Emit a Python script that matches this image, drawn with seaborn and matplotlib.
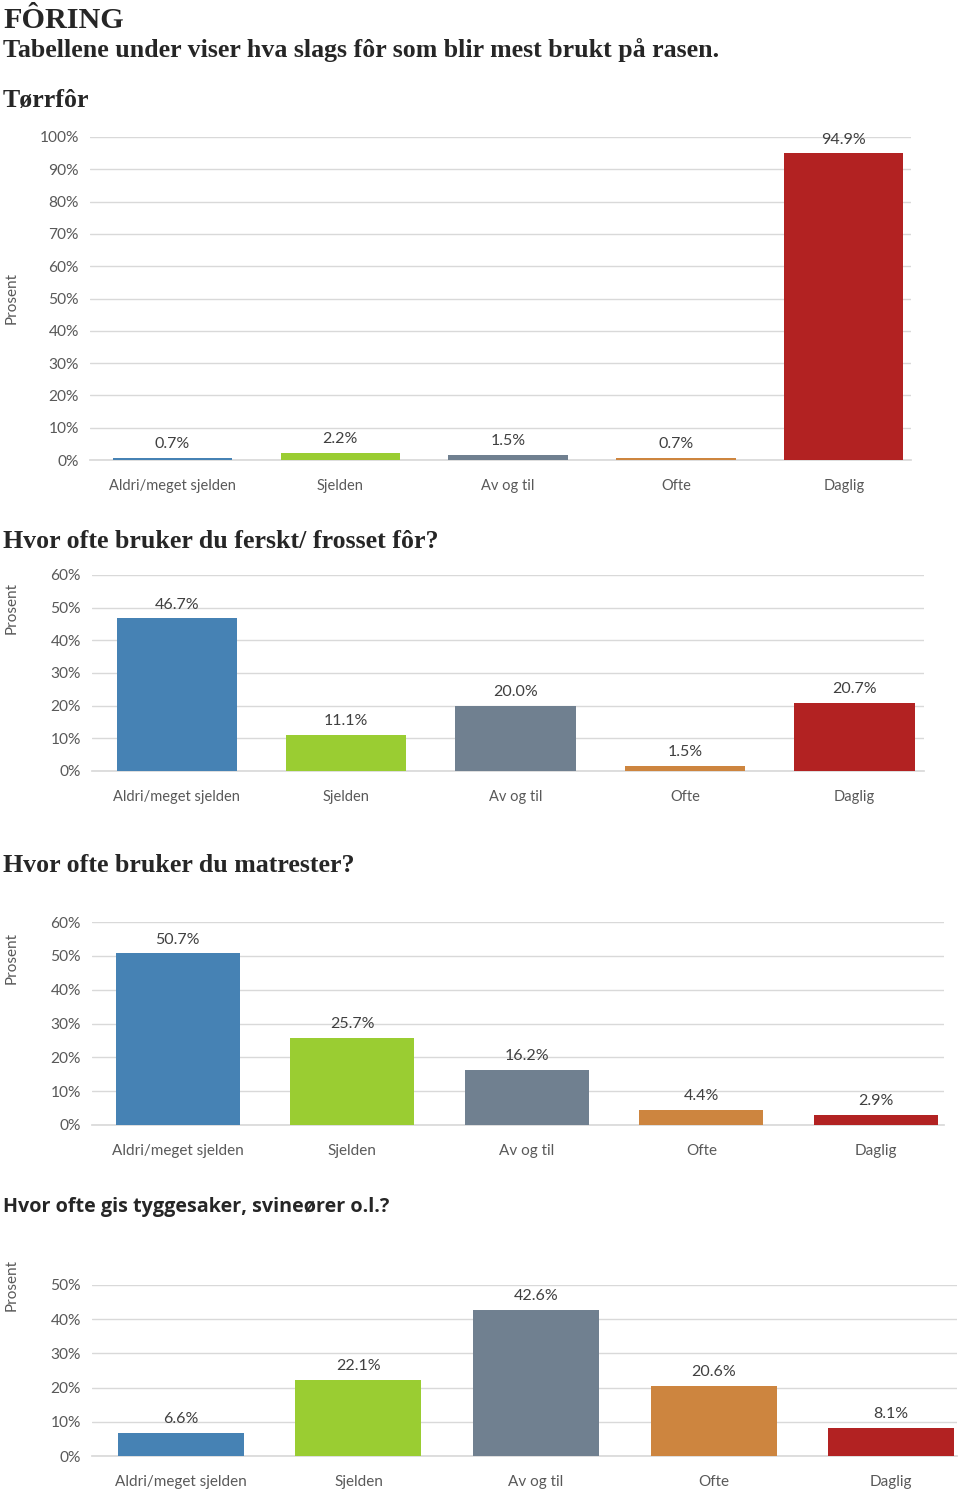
import matplotlib
matplotlib.use("Agg")
import matplotlib.pyplot as plt
import seaborn as sns
import pandas as pd

sns.set_theme(style="white")
plt.rcParams['font.family'] = ['Lato', 'DejaVu Sans']

categories = ["Aldri/meget sjelden", "Sjelden", "Av og til", "Ofte", "Daglig"]
colors = ["#4682B4", "#9ACD32", "#708090", "#CD853F", "#B22222"]

torrfor = [0.7, 2.2, 1.5, 0.7, 94.9]
ferskt = [46.7, 11.1, 20.0, 1.5, 20.7]
matrester = [50.7, 25.7, 16.2, 4.4, 2.9]
tyggesaker = [6.6, 22.1, 42.6, 20.6, 8.1]

W, H = 960, 1494
fig = plt.figure(figsize=(W / 100, H / 100), dpi=100)


def px_axes(left, right, top, bottom):
    return fig.add_axes([left / W, 1 - bottom / H, (right - left) / W, (bottom - top) / H])


def ftext(x, y, s, **kw):
    fig.text(x / W, 1 - y / H, s, **kw)


serif = ['Liberation Serif', 'DejaVu Serif']
ftext(3, 20, "FÔRING", family=serif, fontweight='bold', fontsize=21.7, va='center')
ftext(3, 50, "Tabellene under viser hva slags fôr som blir mest brukt på rasen.",
      family=serif, fontweight='bold', fontsize=18.6, va='center')
ftext(3, 101, "Tørrfôr", family=serif, fontweight='bold', fontsize=18.6, va='center')
ftext(3, 541, "Hvor ofte bruker du ferskt/ frosset fôr?", family=serif, fontweight='bold',
      fontsize=18.6, va='center')
ftext(3, 866, "Hvor ofte bruker du matrester?", family=serif, fontweight='bold',
      fontsize=18.6, va='center')
ftext(3, 1207, "Hvor ofte gis tyggesaker, svineører o.l.?", family=['Open Sans', 'DejaVu Sans'],
      fontweight='bold', fontsize=14.25, va='center')

panels = [
    # values, left, right, top, bottom, ymax, xlim right, prosent y, xlim left, font
    (torrfor, 90, 911, 137, 460, 100, 4.4, 298, -0.49, 10.5),
    (ferskt, 92, 924, 575, 771, 60, 4.41, 608, -0.5, 10.5),
    (matrester, 92, 944, 922, 1125, 60, 4.39, 958, -0.49, 11),
    (tyggesaker, 92, 957, 1285, 1456, 50, 4.37, 1285, -0.5, 11),
]

for vals, l, r, t, b, ymax, xr, py, xl, fs in panels:
    ax = px_axes(l, r, t, b)
    df = pd.DataFrame({"kategori": categories, "prosent": vals})
    sns.barplot(data=df, x="kategori", y="prosent", hue="kategori", palette=colors,
                width=0.71, legend=False, ax=ax, saturation=1, zorder=3, linewidth=0)
    ax.set_ylim(0, ymax)
    ax.set_xlim(xl, xr)
    ax.set_yticks(range(0, ymax + 1, 10))
    ax.set_yticklabels([f"{v}%" for v in range(0, ymax + 1, 10)])
    ax.yaxis.grid(True, color="#D9D9D9", linewidth=1)
    ax.set_axisbelow(True)
    for s in ["top", "right", "left"]:
        ax.spines[s].set_visible(False)
    ax.spines["bottom"].set_color("#D9D9D9")
    ax.spines["bottom"].set_zorder(0.5)
    ax.set_xlabel("")
    ax.set_ylabel("")
    ax.tick_params(axis='y', length=0, pad=8, labelsize=11.2, labelcolor="#595959")
    ax.tick_params(axis='x', length=0, pad=14, labelsize=fs, labelcolor="#595959")
    for c in ax.containers:
        ax.bar_label(c, labels=[f"{v:.1f}%" for v in c.datavalues], padding=5,
                     fontsize=11.5, color="#404040")
    ftext(12, py, "Prosent", rotation=90, fontsize=11, color="#595959",
          ha='center', va='center')

fig.savefig("out.png", dpi=100, facecolor="white")
